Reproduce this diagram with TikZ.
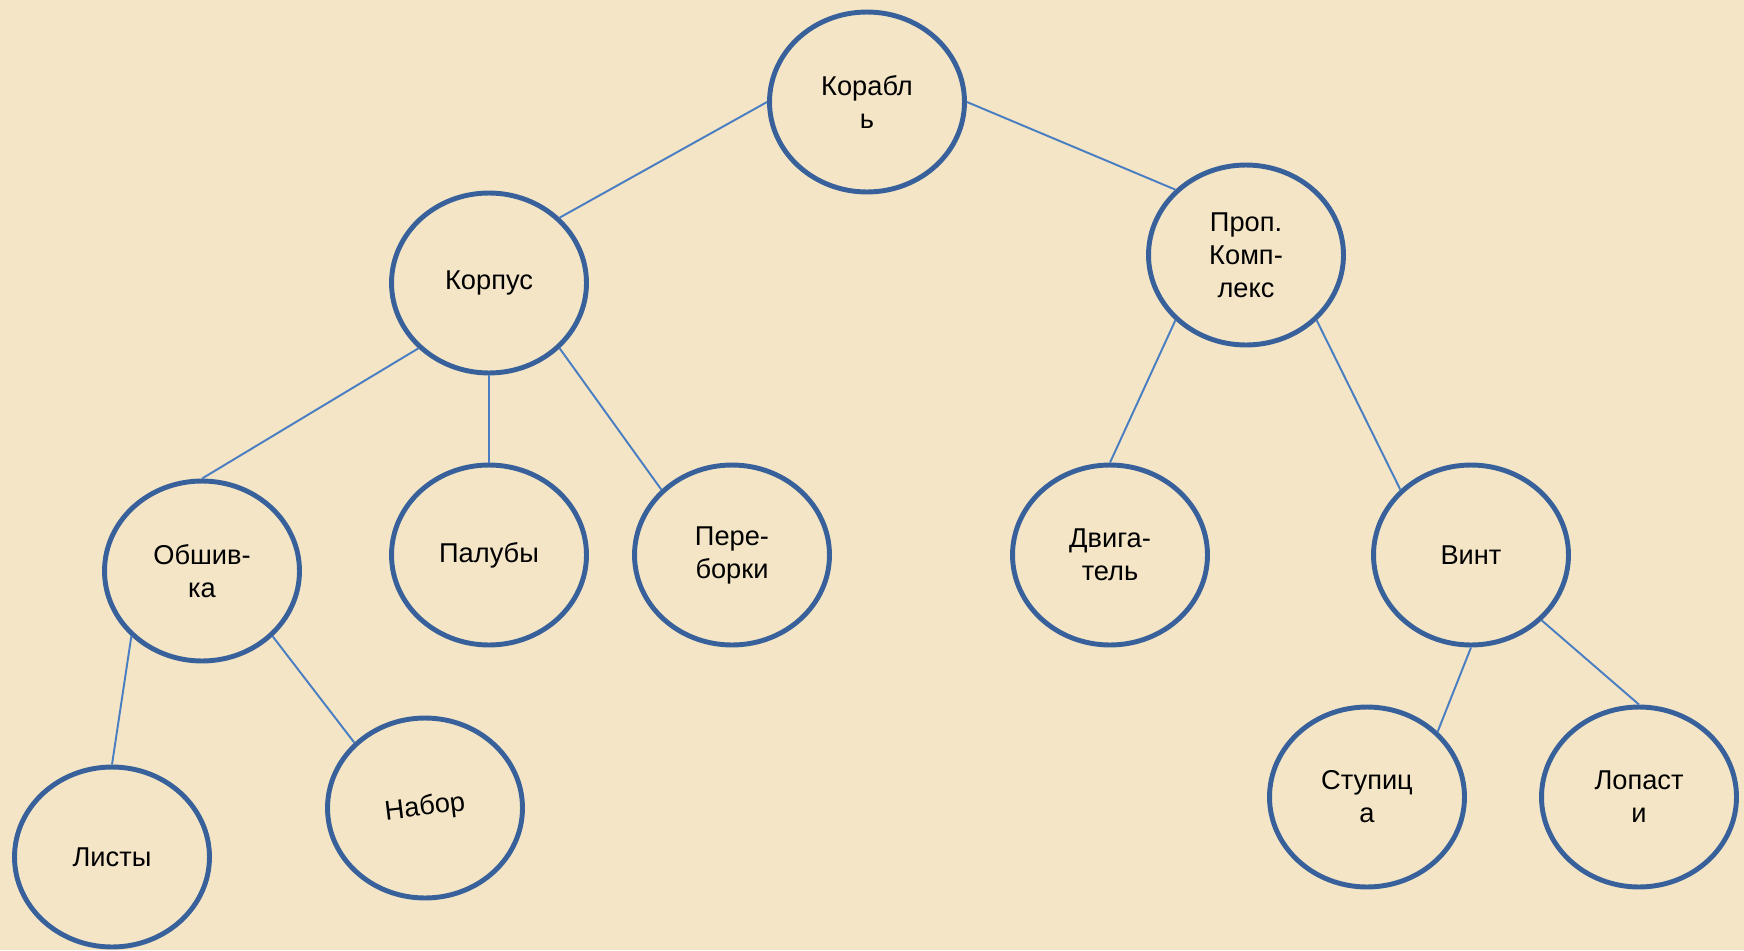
\documentclass[tikz,border=0pt]{standalone}
\usepackage{fontspec}
\setmainfont{Liberation Sans}
\usepackage{tikz}
\usetikzlibrary{shapes.geometric}
\definecolor{paper}{HTML}{F3E5C6}
\definecolor{rim}{HTML}{38609A}
\definecolor{wire}{HTML}{4A7EC2}
\tikzstyle{oval}=[ellipse, draw=rim, line width=2.8pt, minimum width=3.9cm, minimum height=3.6cm, inner sep=0pt, align=center, font=\fontsize{15.5}{18.8}\selectfont]
\tikzstyle{link}=[draw=wire, line width=1.1pt]

\begin{document}
\begin{tikzpicture}[x=0.02cm, y=-0.02cm]

      \fill[paper] (0,0) rectangle (1744,950);
      \useasboundingbox (0,0) rectangle (1744,950);

      \node[oval] (a1) at (867,102) {Корабл\\ь};
      \node[oval] (b1) at (489,283) {Корпус};
      \node[oval] (b2) at (1246,255) {Проп.\\Комп-\\лекс};
      \node[oval] (c1) at (202,571) {Обшив-\\ка};
      \node[oval] (c2) at (489,555) {Палубы};
      \node[oval] (c3) at (732,555) {Пере-\\борки};
      \node[oval] (c4) at (1110,555) {Двига-\\тель};
      \node[oval] (c5) at (1471,555) {Винт};
      \node[oval] (d1) at (112,857) {Листы};
      \node[oval] (d2) at (425,808) {\rotatebox{7}{Набор}};
      \node[oval] (d3) at (1367,797) {Ступиц\\а};
      \node[oval] (d4) at (1639,797) {Лопаст\\и};

      \draw[link] (a1.west) -- (b1.north east);
      \draw[link] (a1.east) -- (b2.north west);
      \draw[link] (b1.south west) -- (c1.north);
      \draw[link] (b1.south) -- (c2.north);
      \draw[link] (b1.south east) -- (c3.north west);
      \draw[link] (b2.south west) -- (c4.north);
      \draw[link] (b2.south east) -- (c5.north west);
      \draw[link] (c1.south west) -- (d1.north);
      \draw[link] (c1.south east) -- (d2.north west);
      \draw[link] (c5.south) -- (d3.north east);
      \draw[link] (c5.south east) -- (d4.north);

    \end{tikzpicture}
\end{document}
